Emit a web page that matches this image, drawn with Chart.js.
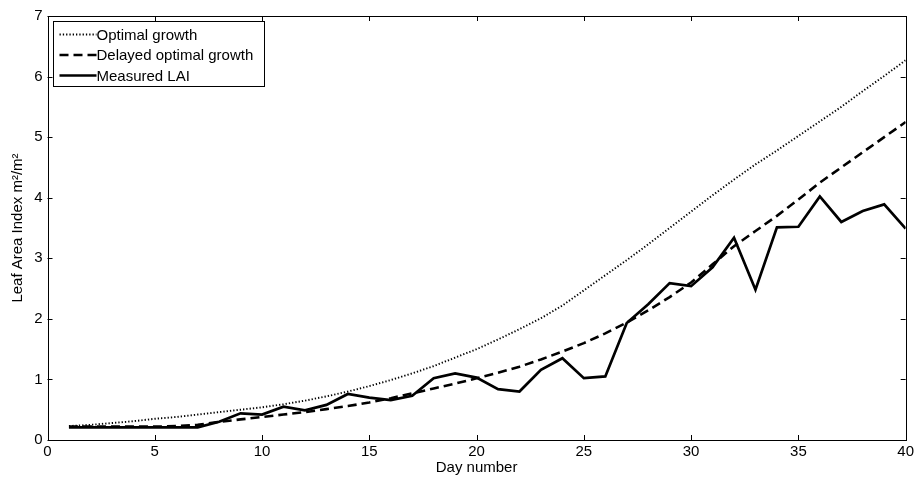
<!DOCTYPE html>
<html><head><meta charset="utf-8">
<script src="https://cdn.jsdelivr.net/npm/chart.js@4.4.0/dist/chart.umd.min.js"></script>
<style>html,body{margin:0;padding:0;background:#fff}#wrap{width:917px;height:479px;position:relative}</style>
</head><body><div id="wrap"><canvas id="c" width="917" height="479"></canvas></div>
<script>
const days = Array.from({length:40},(_,i)=>i+1);
const optimal = [0.23,0.25,0.28,0.31,0.35,0.38,0.42,0.46,0.50,0.54,0.59,0.65,0.72,0.80,0.89,0.99,1.10,1.22,1.36,1.50,1.66,1.83,2.01,2.22,2.47,2.72,2.97,3.23,3.50,3.77,4.04,4.30,4.55,4.78,5.02,5.26,5.50,5.76,6.01,6.27];
const delayed = [0.22,0.22,0.22,0.22,0.22,0.23,0.25,0.30,0.34,0.38,0.42,0.46,0.51,0.56,0.62,0.69,0.77,0.85,0.93,1.02,1.11,1.21,1.33,1.46,1.60,1.76,1.94,2.14,2.36,2.60,2.90,3.20,3.45,3.70,3.97,4.25,4.50,4.75,5.00,5.25];
const measured = [0.21,0.21,0.21,0.21,0.21,0.21,0.21,0.30,0.44,0.42,0.55,0.49,0.58,0.76,0.70,0.66,0.73,1.02,1.10,1.03,0.84,0.80,1.16,1.35,1.02,1.05,1.93,2.24,2.59,2.54,2.85,3.34,2.48,3.51,3.52,4.02,3.60,3.78,3.89,3.49];
const xTicks = [0,5,10,15,20,25,30,35,40];
const yTicks = [0,1,2,3,4,5,6,7];
const seriesNames = ['Optimal growth','Delayed optimal growth','Measured LAI'];

const FONT = 'Liberation Sans, Arial, sans-serif';
const pts = arr => days.map((d,i)=>({x:d,y:arr[i]}));

const styles = [
  {color:'#000', width:1.9, dash:[1.3,2.0]},
  {color:'#000', width:2.6, dash:[9,5]},
  {color:'#000', width:2.7, dash:[]}
];

const framePlugin = {
  id:'frame',
  afterDraw(chart){
    const {ctx, chartArea:a, scales:{x,y}} = chart;
    ctx.save();
    ctx.strokeStyle='#000'; ctx.lineWidth=1;
    ctx.strokeRect(Math.round(a.left)+0.5, Math.round(a.top)+0.5, Math.round(a.right-a.left), Math.round(a.bottom-a.top));
    const L=5;
    ctx.beginPath();
    xTicks.forEach(v=>{const px=Math.round(x.getPixelForValue(v))+0.5;
      ctx.moveTo(px,a.bottom); ctx.lineTo(px,a.bottom-L);
      ctx.moveTo(px,a.top); ctx.lineTo(px,a.top+L);});
    yTicks.forEach(v=>{const py=Math.round(y.getPixelForValue(v))+0.5;
      ctx.moveTo(a.left,py); ctx.lineTo(a.left+L,py);
      ctx.moveTo(a.right,py); ctx.lineTo(a.right-L,py);});
    ctx.stroke();
    // legend
    const bx=Math.round(a.left)+5.5, by=Math.round(a.top)+5.5, bw=211, bh=65;
    ctx.fillStyle='#fff'; ctx.fillRect(bx,by,bw,bh);
    ctx.strokeStyle='#000'; ctx.lineWidth=1; ctx.strokeRect(bx,by,bw,bh);
    ctx.font='15px '+FONT; ctx.textBaseline='middle'; ctx.textAlign='left';
    seriesNames.forEach((n,i)=>{
      const ly=by+13+i*20.5;
      const s=styles[i];
      ctx.strokeStyle=s.color; ctx.lineWidth=s.width; ctx.setLineDash(s.dash);
      ctx.beginPath(); ctx.moveTo(bx+6,ly); ctx.lineTo(bx+43,ly); ctx.stroke();
      ctx.setLineDash([]);
      ctx.fillStyle='#000'; ctx.fillText(n,bx+43,ly+1);
    });
    ctx.restore();
  }
};

new Chart(document.getElementById('c'),{
  type:'line',
  data:{datasets:[
    {label:seriesNames[0],data:pts(optimal),borderColor:styles[0].color,borderWidth:styles[0].width,borderDash:styles[0].dash,pointRadius:0,tension:0,fill:false},
    {label:seriesNames[1],data:pts(delayed),borderColor:styles[1].color,borderWidth:styles[1].width,borderDash:styles[1].dash,pointRadius:0,tension:0,fill:false},
    {label:seriesNames[2],data:pts(measured),borderColor:styles[2].color,borderWidth:styles[2].width,pointRadius:0,tension:0,fill:false,borderJoinStyle:'miter'}
  ]},
  options:{
    responsive:false, animation:false,
    layout:{padding:{top:16,right:10,left:0,bottom:0}},
    plugins:{legend:{display:false},tooltip:{enabled:false}},
    scales:{
      x:{type:'linear',min:0,max:40,
        afterBuildTicks(s){s.ticks=xTicks.map(v=>({value:v}));},
        afterFit(s){s.height=39;},
        grid:{display:false,drawTicks:false,tickLength:0},border:{display:false},
        ticks:{color:'#000',font:{family:FONT,size:15},padding:3,maxRotation:0},
        title:{display:true,text:'Day number',color:'#000',font:{family:FONT,size:15},padding:{top:0,bottom:2}}},
      y:{type:'linear',min:0,max:7,
        afterBuildTicks(s){s.ticks=yTicks.map(v=>({value:v}));},
        afterFit(s){s.width=47.5;},
        grid:{display:false,drawTicks:false,tickLength:0},border:{display:false},
        ticks:{color:'#000',font:{family:FONT,size:15},padding:5},
        title:{display:true,text:'Leaf Area Index m\u00B2/m\u00B2',color:'#000',font:{family:FONT,size:15},padding:{top:9,bottom:0}}}
    }
  },
  plugins:[framePlugin]
});
</script></body></html>
